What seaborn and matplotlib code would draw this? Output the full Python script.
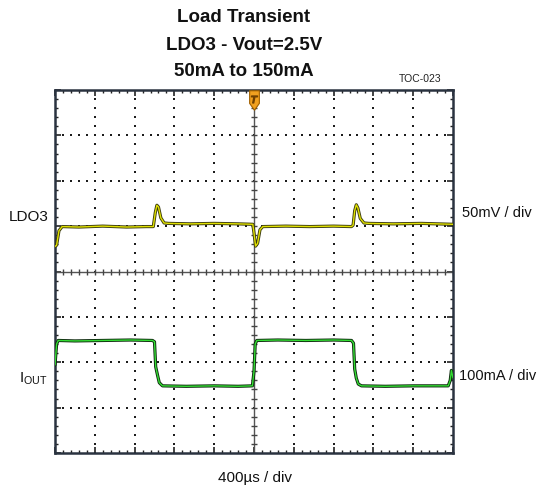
import numpy as np
import pandas as pd
import matplotlib
matplotlib.use("Agg")
import matplotlib.pyplot as plt
import seaborn as sns
from matplotlib.path import Path

# ---- data (time in divisions, signal in divisions from screen centre) ----
ldo3_t = [0.0, 0.04, 0.10, 0.18, 0.6, 1.2, 1.8, 2.3, 2.47, 2.52, 2.56, 2.60, 2.66, 2.74, 2.85,
          3.4, 4.0, 4.6, 4.97, 5.0, 5.04, 5.09, 5.15, 5.22, 5.8, 6.4, 7.0, 7.45, 7.49, 7.53,
          7.57, 7.61, 7.67, 7.76, 7.88, 8.5, 9.2, 10.0]
ldo3_v = [0.55, 0.58, 0.90, 0.99, 0.98, 1.00, 0.98, 0.99, 0.99, 1.30, 1.46, 1.42, 1.18, 1.07,
          1.06, 1.05, 1.06, 1.05, 1.04, 0.85, 0.56, 0.62, 0.92, 0.99, 1.00, 0.99, 1.00, 0.99,
          1.02, 1.34, 1.47, 1.40, 1.17, 1.07, 1.06, 1.05, 1.06, 1.04]

iout_t = [0.0, 0.04, 0.08, 0.5, 1.2, 1.9, 2.45, 2.50, 2.53, 2.58, 2.62, 2.70, 3.3, 4.0, 4.6,
          4.96, 5.0, 5.03, 5.07, 5.6, 6.3, 7.0, 7.45, 7.50, 7.53, 7.57, 7.62, 7.70, 8.3, 9.0,
          9.88, 9.93, 9.96, 10.0]
iout_v = [-2.06, -1.60, -1.52, -1.53, -1.52, -1.51, -1.52, -1.55, -2.10, -2.30, -2.45, -2.52,
          -2.53, -2.52, -2.53, -2.52, -2.20, -1.60, -1.52, -1.51, -1.52, -1.51, -1.52, -1.58,
          -2.15, -2.35, -2.48, -2.52, -2.53, -2.52, -2.52, -2.40, -2.18, -2.35]

title_lines = ["Load Transient", "LDO3 - Vout=2.5V", "50mA to 150mA"]
ch_labels = ["LDO3", "I$_{\\mathregular{OUT}}$"]
scale_labels = ["50mV / div", "100mA / div"]
time_label = "400µs / div"
code_label = "TOC-023"

sns.set_style("white")
plt.rcParams['font.family'] = ['Liberation Sans', 'DejaVu Sans']

W, H = 539, 492
fig = plt.figure(figsize=(W / 100, H / 100), dpi=100)
ax = fig.add_axes([55 / W, (H - 453) / H, 398 / W, 363 / H])
ax.set_xlim(0, 10)
ax.set_ylim(-4, 4)

grid_c = "#1c1c1c"
# dotted graticule
for gx in range(1, 10):
    if gx == 5:
        continue
    yy = np.arange(-4, 4.001, 0.2)
    ax.plot(np.full_like(yy, gx), yy, ls='', marker='s', ms=1.7, color=grid_c, mew=0, zorder=1)
for gy in range(-3, 4):
    if gy == 0:
        continue
    xx = np.arange(0, 10.001, 0.2)
    ax.plot(xx, np.full_like(xx, gy), ls='', marker='s', ms=1.7, color=grid_c, mew=0, zorder=1)

# centre axes with ticks
ax.axhline(0, color="#555555", lw=1.0, zorder=1)
ax.axvline(5, color="#555555", lw=1.0, zorder=1)
xx = np.arange(0, 10.001, 0.2)
ax.plot(xx, np.zeros_like(xx), ls='', marker='|', ms=4, mew=1.0, color="#444444", zorder=1)
yy = np.arange(-4, 4.001, 0.2)
ax.plot(np.full_like(yy, 5), yy, ls='', marker='_', ms=4, mew=1.0, color="#444444", zorder=1)

# border ticks
ax.set_xticks(np.arange(0, 10.01, 1))
ax.set_yticks(np.arange(-4, 4.01, 1))
ax.set_xticks(np.arange(0, 10.01, 0.2), minor=True)
ax.set_yticks(np.arange(-4, 4.01, 0.2), minor=True)
ax.tick_params(which='both', direction='in', top=True, right=True, bottom=True, left=True,
               labelbottom=False, labelleft=False, color="#222222")
ax.tick_params(which='major', length=4, width=1.2)
ax.tick_params(which='minor', length=2.5, width=1.0)
for s in ax.spines.values():
    s.set_color("#2a3340")
    s.set_linewidth(1.8)

# traces
df_l = pd.DataFrame({"t": ldo3_t, "v": ldo3_v})
df_i = pd.DataFrame({"t": iout_t, "v": iout_v})
sns.lineplot(data=df_l, x="t", y="v", ax=ax, color="#3b3b10", lw=2.3, sort=False, zorder=3)
sns.lineplot(data=df_l, x="t", y="v", ax=ax, color="#e0e000", lw=1.0, sort=False, zorder=4)
sns.lineplot(data=df_i, x="t", y="v", ax=ax, color="#0e2a0e", lw=2.3, sort=False, zorder=3)
sns.lineplot(data=df_i, x="t", y="v", ax=ax, color="#33dd33", lw=1.0, sort=False, zorder=4)
ax.set_xlabel("")
ax.set_ylabel("")

# trigger marker
verts = [(-0.5, 1.0), (0.5, 1.0), (0.5, -0.3), (0.0, -1.0), (-0.5, -0.3), (-0.5, 1.0)]
codes = [Path.MOVETO, Path.LINETO, Path.LINETO, Path.LINETO, Path.LINETO, Path.CLOSEPOLY]
ax.plot([5], [3.78], marker=Path(verts, codes), ms=14, color="#f0a020", mec="#a06000",
        mew=0.8, clip_on=False, zorder=6)
ax.plot([5], [3.80], marker='$T$', ms=5, color="#704000", clip_on=False, zorder=7)

# text
for i, (line, y) in enumerate(zip(title_lines, [18, 45, 71])):
    fig.text(244 / W, 1 - y / H, line, ha='center', va='center', fontsize=13.5,
             fontweight='bold', color="#111111")
fig.text(441 / W, 1 - 79 / H, code_label, ha='right', va='center', fontsize=7.5, color="#222222")
fig.text(49 / W, 1 - 217 / H, ch_labels[0], ha='right', va='center', fontsize=11, color="#111111")
fig.text(48 / W, 1 - 379 / H, ch_labels[1], ha='right', va='center', fontsize=11, color="#111111")
fig.text(462 / W, 1 - 213 / H, scale_labels[0], ha='left', va='center', fontsize=10.5, color="#111111")
fig.text(459 / W, 1 - 376 / H, scale_labels[1], ha='left', va='center', fontsize=10.5, color="#111111")
fig.text(255 / W, 1 - 478 / H, time_label, ha='center', va='center', fontsize=11, color="#111111")

fig.savefig("out.png", dpi=100)
